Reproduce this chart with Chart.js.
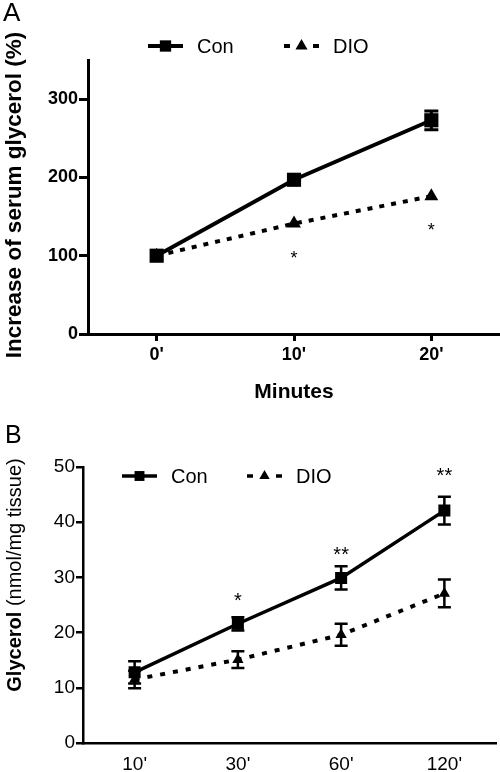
<!DOCTYPE html>
<html>
<head>
<meta charset="utf-8">
<script src="https://cdn.jsdelivr.net/npm/chart.js@4"></script>
<style>
  body { margin: 0; background: #fff; }
  #wrap { position: relative; width: 500px; height: 772px; }
  canvas { display: block; }
  .panel { position: absolute; font-family: 'Liberation Sans', Arial, sans-serif; color: #000; line-height: 1; }
</style>
</head>
<body>
<div id="wrap">
  <canvas id="chartA" width="500" height="405"></canvas>
  <canvas id="chartB" width="500" height="367"></canvas>
  <div class="panel" style="left:3px; top:-1px; font-size:26px;">A</div>
  <div class="panel" style="left:5px; top:422px; font-size:25px;">B</div>
</div>
<script>
// panel A: serum glycerol, % of baseline
const minutesA = ["0'", "10'", "20'"];
const conA = [100, 197, 273];
const conAErr = [0, 4, 12];
const dioA = [100, 141, 176];
const dioAErr = [0, 0, 0];
const sigA = ["", "*", "*"];
const sigAPos = [null, 101, 137];

// panel B: glycerol release, nmol/mg tissue
const minutesB = ["10'", "30'", "60'", "120'"];
const conB = [12.8, 21.6, 29.9, 42.1];
const conBErr = [2.0, 1.2, 2.1, 2.5];
const dioB = [11.5, 15.1, 19.6, 27.1];
const dioBErr = [1.6, 1.5, 2.0, 2.5];
const sigB = ["", "*", "**", "**"];
const sigBPos = [null, 26.4, 34.7, 49.1];

const FAMILY = "'Liberation Sans', Arial, sans-serif";

function drawMarker(ctx, style, x, y, r) {
    ctx.beginPath();
    if (style === "rect") {
        const s = r * Math.SQRT1_2;
        ctx.rect(x - s, y - s, 2 * s, 2 * s);
    } else {
        ctx.moveTo(x, y - r);
        ctx.lineTo(x + r * 0.866, y + r * 0.5);
        ctx.lineTo(x - r * 0.866, y + r * 0.5);
        ctx.closePath();
    }
    ctx.fill();
}

const errorBars = {
    id: "errorBars",
    afterDatasetsDraw(chart, args, opts) {
        const ctx = chart.ctx;
        const y = chart.scales.y;
        ctx.save();
        ctx.strokeStyle = "#000";
        ctx.lineWidth = opts.width;
        chart.data.datasets.forEach((ds, i) => {
            const meta = chart.getDatasetMeta(i);
            meta.data.forEach((pt, j) => {
                const e = ds.errors[j];
                if (!e) return;
                const top = y.getPixelForValue(ds.data[j] + e);
                const bot = y.getPixelForValue(ds.data[j] - e);
                const c = opts.cap / 2;
                ctx.beginPath();
                ctx.moveTo(pt.x, top); ctx.lineTo(pt.x, bot);
                ctx.moveTo(pt.x - c, top); ctx.lineTo(pt.x + c, top);
                ctx.moveTo(pt.x - c, bot); ctx.lineTo(pt.x + c, bot);
                ctx.stroke();
            });
        });
        ctx.restore();
    }
};

const stars = {
    id: "stars",
    afterDatasetsDraw(chart, args, opts) {
        const ctx = chart.ctx;
        const x = chart.scales.x, y = chart.scales.y;
        ctx.save();
        ctx.fillStyle = "#000";
        ctx.font = opts.size + "px " + FAMILY;
        ctx.textAlign = "center";
        ctx.textBaseline = "middle";
        opts.labels.forEach((t, j) => {
            if (!t) return;
            ctx.fillText(t, x.getPixelForValue(j), y.getPixelForValue(opts.values[j]) + opts.size * 0.22);
        });
        ctx.restore();
    }
};

const sampleLegend = {
    id: "sampleLegend",
    afterDraw(chart, args, opts) {
        const ctx = chart.ctx;
        ctx.save();
        ctx.font = opts.size + "px " + FAMILY;
        ctx.textBaseline = "middle";
        ctx.fillStyle = "#000";
        ctx.strokeStyle = "#000";
        chart.data.datasets.forEach((ds, i) => {
            const x0 = opts.x + i * opts.stride;
            ctx.lineWidth = opts.lineWidth;
            ctx.setLineDash(ds.borderDash ? [6, opts.sample - 12] : []);
            ctx.beginPath();
            ctx.moveTo(x0, opts.y);
            ctx.lineTo(x0 + opts.sample, opts.y);
            ctx.stroke();
            ctx.setLineDash([]);
            drawMarker(ctx, ds.pointStyle, x0 + opts.sample / 2, opts.y, opts.marker[i]);
            ctx.fillText(ds.label, x0 + opts.sample + opts.textGap, opts.y + 1);
        });
        ctx.restore();
    }
};

// rotated y titles; panel B has a bold word followed by normal units
const mixedTitle = {
    id: "mixedTitle",
    afterDraw(chart, args, opts) {
        const ctx = chart.ctx;
        const a = chart.chartArea;
        ctx.save();
        ctx.translate(opts.x, (a.top + a.bottom) / 2 + opts.dy);
        ctx.rotate(-Math.PI / 2);
        ctx.textBaseline = "middle";
        ctx.fillStyle = "#000";
        const bold = "bold " + opts.size + "px " + FAMILY;
        const norm = opts.size + "px " + FAMILY;
        ctx.font = bold;
        const w1 = ctx.measureText(opts.bold).width;
        ctx.font = norm;
        const w2 = opts.normal ? ctx.measureText(opts.normal).width : 0;
        let sx = -(w1 + w2) / 2;
        ctx.font = bold;
        ctx.fillText(opts.bold, sx, 0);
        if (opts.normal) {
            ctx.font = norm;
            ctx.fillText(opts.normal, sx + w1, 0);
        }
        ctx.restore();
    }
};

new Chart(document.getElementById("chartA").getContext("2d"), {
    type: "line",
    data: {
        labels: minutesA,
        datasets: [
            {
                label: "Con",
                data: conA,
                errors: conAErr,
                borderColor: "#000",
                backgroundColor: "#000",
                borderWidth: 4,
                pointStyle: "rect",
                pointRadius: 10,
                pointBorderWidth: 0,
                lineTension: 0
            },
            {
                label: "DIO",
                data: dioA,
                errors: dioAErr,
                borderColor: "#000",
                backgroundColor: "#000",
                borderWidth: 4,
                borderDash: [5, 7],
                pointStyle: "triangle",
                pointRadius: 8,
                pointBorderWidth: 0,
                lineTension: 0
            }
        ]
    },
    options: {
        responsive: false,
        animation: false,
        layout: { autoPadding: false, padding: { top: 60, right: 0, bottom: 0, left: 0 } },
        scales: {
            x: {
                offset: true,
                grid: { drawOnChartArea: false, offset: false, tickLength: 7, color: "#000", lineWidth: 3 },
                border: { color: "#000", width: 3 },
                ticks: { color: "#000", padding: 3, font: { family: FAMILY, size: 18, weight: "bold" } },
                title: { display: true, text: "Minutes", color: "#000", padding: 0, font: { family: FAMILY, size: 21, weight: "bold" } },
                afterFit: s => { s.height = 71; s.paddingLeft = 0; s.paddingRight = 0; }
            },
            y: {
                min: 0,
                max: 350,
                ticks: { stepSize: 100, color: "#000", padding: 1, font: { family: FAMILY, size: 18, weight: "bold" } },
                afterBuildTicks: s => { s.ticks = s.ticks.filter(t => t.value % 100 === 0); },
                grid: { drawOnChartArea: false, tickLength: 9, color: "#000", lineWidth: 3 },
                border: { color: "#000", width: 3 },
                afterFit: s => { s.width = 88; }
            }
        },
        plugins: {
            legend: { display: false },
            tooltip: { enabled: false },
            errorBars: { width: 3, cap: 14 },
            stars: { labels: sigA, values: sigAPos, size: 18 },
            sampleLegend: { x: 148, y: 46, stride: 136, sample: 35, textGap: 14, size: 20, lineWidth: 4, marker: [8, 7] },
            mixedTitle: { bold: "Increase of serum glycerol (%)", normal: "", size: 22.5, x: 15, dy: -2 }
        }
    },
    plugins: [errorBars, stars, sampleLegend, mixedTitle]
});

new Chart(document.getElementById("chartB").getContext("2d"), {
    type: "line",
    data: {
        labels: minutesB,
        datasets: [
            {
                label: "Con",
                data: conB,
                errors: conBErr,
                borderColor: "#000",
                backgroundColor: "#000",
                borderWidth: 3.5,
                pointStyle: "rect",
                pointRadius: 8.5,
                pointBorderWidth: 0,
                lineTension: 0
            },
            {
                label: "DIO",
                data: dioB,
                errors: dioBErr,
                borderColor: "#000",
                backgroundColor: "#000",
                borderWidth: 4,
                borderDash: [5, 8],
                pointStyle: "triangle",
                pointRadius: 6.5,
                pointBorderWidth: 0,
                lineTension: 0
            }
        ]
    },
    options: {
        responsive: false,
        animation: false,
        layout: { autoPadding: false, padding: { top: 62, right: 4, bottom: 0, left: 0 } },
        scales: {
            x: {
                offset: true,
                grid: { display: false, drawTicks: false },
                border: { color: "#000", width: 2.5 },
                ticks: { color: "#000", padding: 10, font: { family: FAMILY, size: 19 } },
                afterFit: s => { s.height = 29; s.paddingLeft = 0; s.paddingRight = 0; }
            },
            y: {
                min: 0,
                max: 50,
                ticks: { stepSize: 10, color: "#000", padding: 1, font: { family: FAMILY, size: 19 } },
                grid: { drawOnChartArea: false, tickLength: 7, color: "#000", lineWidth: 2.5 },
                border: { color: "#000", width: 2.5 },
                afterFit: s => { s.width = 83; }
            }
        },
        plugins: {
            legend: { display: false },
            tooltip: { enabled: false },
            errorBars: { width: 2.5, cap: 13 },
            stars: { labels: sigB, values: sigBPos, size: 20 },
            sampleLegend: { x: 122, y: 71, stride: 125, sample: 35, textGap: 14, size: 20, lineWidth: 3.5, marker: [7, 6] },
            mixedTitle: { bold: "Glycerol", normal: " (nmol/mg tissue)", size: 20, x: 15, dy: -30 }
        }
    },
    plugins: [errorBars, stars, sampleLegend, mixedTitle]
});
</script>
</body>
</html>
